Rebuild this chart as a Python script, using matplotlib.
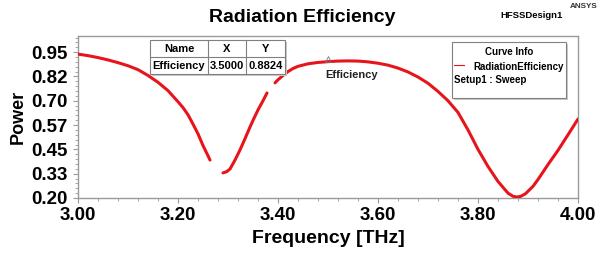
import numpy as np
import matplotlib
matplotlib.use("Agg")
import matplotlib.pyplot as plt
from matplotlib.ticker import AutoMinorLocator, FixedLocator
from matplotlib.patches import Rectangle
from matplotlib.lines import Line2D

plt.rcParams['font.family'] = ['Liberation Sans', 'DejaVu Sans']
plt.rcParams['font.weight'] = 'bold'

# ---- data ----
freq = [3.00, 3.02, 3.04, 3.06, 3.08, 3.10, 3.12, 3.14, 3.16, 3.18, 3.20, 3.21, 3.22,
        3.23, 3.24, 3.25, 3.26, 3.264,
        np.nan,
        3.29, 3.297, 3.304, 3.314, 3.324, 3.334, 3.344, 3.352, 3.36, 3.37, 3.378,
        np.nan,
        3.394, 3.40, 3.41, 3.42, 3.43, 3.44, 3.46, 3.48, 3.50, 3.52, 3.54, 3.56, 3.58,
        3.60, 3.62, 3.64, 3.66, 3.68, 3.70, 3.72, 3.74, 3.76, 3.78, 3.80, 3.82, 3.84,
        3.86, 3.87, 3.877, 3.885, 3.895, 3.91, 3.92, 3.94, 3.96, 3.98, 4.00]
eff = [0.940, 0.932, 0.922, 0.910, 0.896, 0.880, 0.860, 0.830, 0.795, 0.752, 0.695,
       0.665, 0.628, 0.580, 0.530, 0.470, 0.417, 0.395,
       np.nan,
       0.329, 0.335, 0.349, 0.395, 0.447, 0.505, 0.565, 0.610, 0.653, 0.700, 0.740,
       np.nan,
       0.792, 0.808, 0.830, 0.850, 0.866, 0.877, 0.890, 0.897, 0.901, 0.904, 0.905,
       0.904, 0.900, 0.893, 0.883, 0.868, 0.848, 0.822, 0.790, 0.748, 0.700, 0.640,
       0.550, 0.450, 0.362, 0.285, 0.225, 0.209, 0.205, 0.208, 0.222, 0.260, 0.295,
       0.372, 0.445, 0.525, 0.606]
ytick_vals = [0.20, 0.325, 0.45, 0.575, 0.70, 0.825, 0.95]
ytick_labels = ['0.20', '0.33', '0.45', '0.57', '0.70', '0.82', '0.95']
xtick_vals = [3.00, 3.20, 3.40, 3.60, 3.80, 4.00]
xtick_labels = ['3.00', '3.20', '3.40', '3.60', '3.80', '4.00']
marker_x = 3.5
marker_plot_y = 0.901
table_cols = ['Name', 'X', 'Y']
table_row = ['Efficiency', '3.5000', '0.8824']

W, H = 598, 258
fig = plt.figure(figsize=(W / 100, H / 100), dpi=100)
L, R, T, B = 78, 578, 36, 198
ax = fig.add_axes([L / W, 1 - B / H, (R - L) / W, (B - T) / H])

red = '#e8141c'
ax.plot(freq, eff, color=red, lw=2.2, solid_capstyle='round', zorder=3)
ax.set_xlim(3.0, 4.0)
ax.set_ylim(0.20, 1.033)

gray = '#9a9a9a'
for s in ax.spines.values():
    s.set_color(gray)
    s.set_linewidth(1.0)

ax.xaxis.set_major_locator(FixedLocator(xtick_vals))
ax.set_xticklabels(xtick_labels)
ax.yaxis.set_major_locator(FixedLocator(ytick_vals))
ax.set_yticklabels(ytick_labels)
ax.xaxis.set_minor_locator(AutoMinorLocator(5))
ax.yaxis.set_minor_locator(AutoMinorLocator(5))
ax.tick_params(axis='both', which='major', direction='out', length=3.5, width=0.8,
               color=gray, labelsize=13.5, pad=3)
ax.tick_params(axis='both', which='minor', direction='out', length=2, width=0.6, color=gray)
ax.tick_params(axis='y', which='major', pad=4)
for lab in ax.get_xticklabels() + ax.get_yticklabels():
    lab.set_fontweight('bold')

ax.set_xlabel('Frequency [THz]', fontsize=14, fontweight='bold', labelpad=4)
ax.set_ylabel('Power', fontsize=13, fontweight='bold', labelpad=3)

fig.text(302 / W, 1 - 17 / H, 'Radiation Efficiency', fontsize=14, fontweight='bold',
         ha='center', va='center')
fig.text(500 / W, 1 - 15 / H, 'HFSSDesign1', fontsize=6.8, fontweight='bold',
         ha='left', va='center')
fig.text(570 / W, 1 - 7 / H, 'ANSYS', fontsize=5.9, fontweight='bold',
         ha='left', va='center', color='#333333')

# marker
ax.plot([marker_x], [marker_plot_y + 0.012], marker='^', mfc='none', mec='#777777',
        ms=4, mew=0.6, zorder=4)
fig.text(325 / W, 1 - 75 / H, 'Efficiency', fontsize=8, fontweight='bold',
         ha='left', va='center', color='#222222')


def fx(px):
    return px / W


def fy(py):
    return 1 - py / H


def box(x0, x1, y0, y1, z):
    ax.add_patch(Rectangle((fx(x0 + 2), fy(y1 + 2)), (x1 - x0) / W, (y1 - y0) / H,
                           transform=fig.transFigure, facecolor='#c8c8c8',
                           edgecolor='none', zorder=z, clip_on=False))
    ax.add_patch(Rectangle((fx(x0), fy(y1)), (x1 - x0) / W, (y1 - y0) / H,
                           transform=fig.transFigure, facecolor='white',
                           edgecolor='#808080', lw=0.8, zorder=z + 1, clip_on=False))


def hline(x0, x1, y, z):
    ax.add_line(Line2D([fx(x0), fx(x1)], [fy(y), fy(y)], transform=fig.transFigure,
                       color='#808080', lw=0.8, zorder=z, clip_on=False))


def vline(x, y0, y1, z):
    ax.add_line(Line2D([fx(x), fx(x)], [fy(y0), fy(y1)], transform=fig.transFigure,
                       color='#808080', lw=0.8, zorder=z, clip_on=False))


# marker table
tx0, tx1, ty0, ty1 = 150, 285, 40, 74
box(tx0, tx1, ty0, ty1, 5)
hline(tx0, tx1, 57, 7)
col_edges = [150, 208, 246, 285]
for xe in col_edges[1:-1]:
    vline(xe, ty0, ty1, 7)
for i in range(3):
    cx = (col_edges[i] + col_edges[i + 1]) / 2
    ax.text(fx(cx), fy(49), table_cols[i], transform=fig.transFigure, fontsize=8,
            fontweight='bold', ha='center', va='center', zorder=8)
    ax.text(fx(cx), fy(66), table_row[i], transform=fig.transFigure, fontsize=8,
            fontweight='bold', ha='center', va='center', zorder=8)

# curve info box
lx0, lx1, ly0, ly1 = 452, 566, 42, 98
box(lx0, lx1, ly0, ly1, 5)
ax.text(fx(509), fy(52), 'Curve Info', transform=fig.transFigure, fontsize=7,
        fontweight='bold', ha='center', va='center', zorder=8)
ax.add_line(Line2D([fx(454), fx(464)], [fy(65), fy(65)], transform=fig.transFigure,
                   color=red, lw=0.8, zorder=8, clip_on=False))
ax.text(fx(473), fy(67), 'RadiationEfficiency', transform=fig.transFigure, fontsize=7,
        fontweight='bold', ha='left', va='center', zorder=8)
ax.text(fx(454), fy(80), 'Setup1 : Sweep', transform=fig.transFigure, fontsize=7,
        fontweight='bold', ha='left', va='center', zorder=8)

fig.savefig('out.png', dpi=100)
